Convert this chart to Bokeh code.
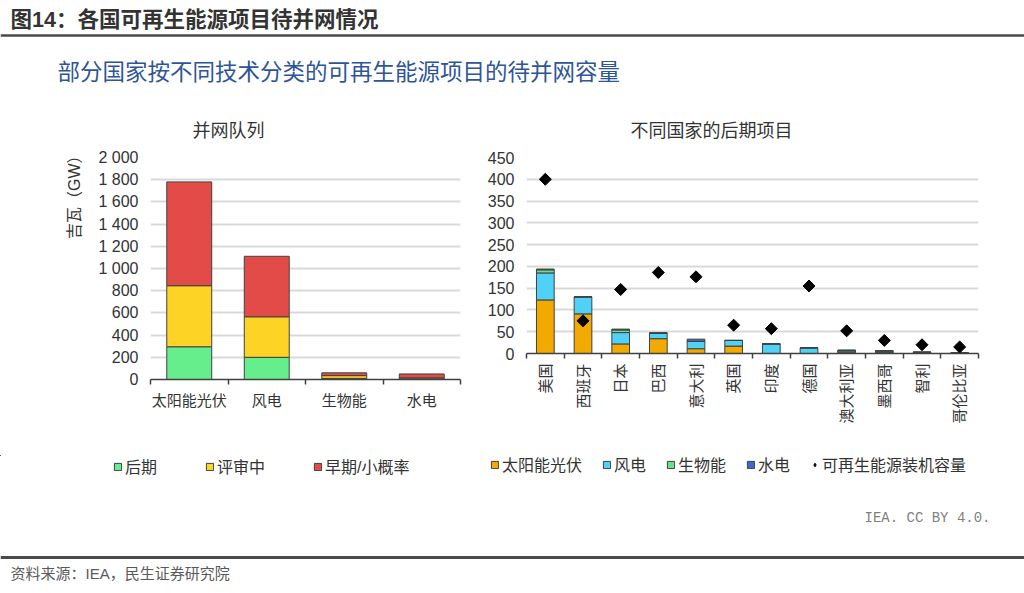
import numpy as np
from bokeh.plotting import figure
from bokeh.models import (Range1d, Span, Label, Legend, LegendItem, Title,
                          LinearAxis, FixedTicker, ColumnDataSource)
from bokeh.layouts import column, row
from bokeh.embed import file_html
from bokeh.resources import INLINE

FONT = "Liberation Sans, Noto Sans CJK SC"
TXT = "#333333"

# ---------------- data ----------------
queue_categories = ["太阳能光伏", "风电", "生物能", "水电"]
queue_stage_labels = ["后期", "评审中", "早期/小概率"]
queue_late = [295, 200, 10, 5]
queue_review = [550, 365, 25, 10]
queue_early = [935, 545, 25, 35]
queue_yticks = [0, 200, 400, 600, 800, 1000, 1200, 1400, 1600, 1800, 2000]

countries = ["美国", "西班牙", "日本", "巴西", "意大利", "英国", "印度", "德国",
             "澳大利亚", "墨西哥", "智利", "哥伦比亚"]
tech_labels = ["太阳能光伏", "风电", "生物能", "水电"]
late_solar = [123, 91, 22, 34, 11, 17, 0, 0, 3, 2, 2, 1]
late_wind = [62, 39, 26, 13, 17, 13, 22, 13, 3, 4, 1, 0]
late_bio = [7, 0, 6, 0, 0, 0, 0, 0, 1, 0, 0, 0]
late_hydro = [2, 0, 2, 0, 5, 0, 0, 0, 1, 0, 0, 0]
installed = [400, 75, 147, 186, 176, 65, 57, 155, 52, 30, 20, 15]
installed_label = "可再生能源装机容量"
country_yticks = [0, 50, 100, 150, 200, 250, 300, 350, 400, 450]

stage_colors = ["#66ee8c", "#fdd426", "#e34b48"]
tech_colors = ["#f2a900", "#4fd1f8", "#69e08f", "#3b6cc9"]
OUTLINE = "#404040"


def base_fig(w, h, **kw):
    p = figure(width=w, height=h, output_backend="svg", toolbar_location=None, **kw)
    p.outline_line_color = None
    p.background_fill_color = "white"
    p.border_fill_color = "white"
    return p


def text_fig(w, h):
    p = base_fig(w, h, x_range=Range1d(0, w), y_range=Range1d(h, 0),
                 x_axis_location=None, y_axis_location=None, min_border=0)
    p.grid.visible = False
    return p


def style_y(p, ticks, labels):
    ax = p.yaxis[0]
    ax.ticker = FixedTicker(ticks=ticks)
    ax.major_label_overrides = labels
    ax.axis_line_color = None
    ax.major_tick_line_color = None
    ax.major_tick_out = 0
    ax.minor_tick_line_color = None
    ax.major_label_standoff = 12
    ax.major_label_text_font_size = "16px"
    ax.major_label_text_font = FONT
    ax.major_label_text_color = TXT
    p.ygrid.ticker = FixedTicker(ticks=ticks)
    p.ygrid.grid_line_color = "#d9d9d9"
    p.ygrid.grid_line_width = 2
    p.xgrid.visible = False


def add_x_axis(p, cats, standoff, orient):
    n = len(cats)
    centers = [i + 0.5 for i in range(n)]
    ax = LinearAxis(ticker=FixedTicker(ticks=centers, minor_ticks=list(range(n + 1))),
                    major_label_overrides={c: name for c, name in zip(centers, cats)})
    ax.axis_line_color = OUTLINE
    ax.axis_line_width = 1.5
    ax.major_tick_line_color = None
    ax.major_tick_out = 0
    ax.major_tick_in = 0
    ax.minor_tick_line_color = OUTLINE
    ax.minor_tick_line_width = 1.5
    ax.minor_tick_out = 5
    ax.minor_tick_in = 0
    ax.major_label_text_font_size = "15px"
    ax.major_label_text_font = FONT
    ax.major_label_text_color = TXT
    ax.major_label_standoff = standoff
    ax.major_label_orientation = orient
    p.add_layout(ax, "below")
    return centers


def make_legend(items, loc, spacing):
    return Legend(items=items, orientation="horizontal", location=loc,
                  glyph_width=9, glyph_height=9, label_standoff=3, spacing=spacing,
                  padding=0, margin=0, border_line_color=None, background_fill_alpha=0,
                  label_text_font=FONT, label_text_font_size="16px", label_text_color=TXT)


# ---------------- header (titles) ----------------
HH = 145
header = text_fig(1024, HH)
header.add_layout(Label(x=10, y=19, text="图14：各国可再生能源项目待并网情况",
                        text_font=FONT, text_font_size="21.5px", text_font_style="bold",
                        text_color="#333333", text_baseline="middle"))
header.add_layout(Span(location=35, dimension="width", line_color="#4a4a4a", line_width=2.5))
header.add_layout(Label(x=57, y=72, text="部分国家按不同技术分类的可再生能源项目的待并网容量",
                        text_font=FONT, text_font_size="22.5px",
                        text_color="#2e5597", text_baseline="middle"))
header.add_layout(Label(x=228, y=130, text="并网队列", text_font=FONT, text_font_size="18px",
                        text_color=TXT, text_align="center", text_baseline="middle"))
header.add_layout(Label(x=711, y=130, text="不同国家的后期项目", text_font=FONT,
                        text_font_size="18px", text_color=TXT, text_align="center",
                        text_baseline="middle"))

TOP = 12
BOTTOM = 76

# ---------------- left chart ----------------
left = base_fig(484, TOP + 222 + BOTTOM, x_range=Range1d(0, len(queue_categories)),
                y_range=Range1d(0, 2000), x_axis_location=None,
                min_border_left=150, min_border_right=24, min_border_top=TOP,
                min_border_bottom=BOTTOM)
style_y(left, queue_yticks, {v: f"{v:,}".replace(",", " ") for v in queue_yticks})
lx = add_x_axis(left, queue_categories, 7, "horizontal")
left.add_layout(Title(text="吉瓦（GW）", align="right", offset=-10, standoff=26,
                      text_font=FONT, text_font_size="16px", text_font_style="normal",
                      text_color=TXT), "left")
lsrc = ColumnDataSource(dict(x=lx, late=queue_late, review=queue_review, early=queue_early))
left.vbar_stack(["late", "review", "early"], x="x", width=0.58, source=lsrc,
                fill_color=stage_colors, line_color=OUTLINE, line_width=1)

# ---------------- right chart ----------------
right = base_fig(540, TOP + 196 + BOTTOM, x_range=Range1d(0, len(countries)),
                 y_range=Range1d(0, 450), x_axis_location=None,
                 min_border_left=40, min_border_right=46, min_border_top=TOP,
                 min_border_bottom=BOTTOM)
style_y(right, country_yticks, {v: str(v) for v in country_yticks})
rx = add_x_axis(right, countries, 5, np.pi / 2)
rsrc = ColumnDataSource(dict(x=rx, solar=late_solar, wind=late_wind,
                             bio=late_bio, hydro=late_hydro, installed=installed))
right.vbar_stack(["solar", "wind", "bio", "hydro"], x="x", width=0.47, source=rsrc,
                 fill_color=tech_colors, line_color=OUTLINE, line_width=1)
right.scatter(x="x", y="installed", source=rsrc, marker="square", angle=np.pi / 4,
              size=8.5, fill_color="black", line_color="black")

# ---------------- legends + footer ----------------
FH = 593 - HH - (TOP + 222 + BOTTOM)
footer = text_fig(1024, FH)
# legend swatches: one glyph each, placed far off-canvas so only the legend shows them
OFF = -5000
lkeys = []
for lab, c in zip(queue_stage_labels, stage_colors):
    r = footer.vbar(x=[OFF], bottom=[OFF], top=[OFF + 1], width=1, fill_color=c,
                    line_color=OUTLINE, line_width=1)
    lkeys.append(LegendItem(label=lab, renderers=[r]))
footer.add_layout(make_legend(lkeys, (113, FH - 23), 48))
rkeys = []
for lab, c in zip(tech_labels, tech_colors):
    r = footer.vbar(x=[OFF], bottom=[OFF], top=[OFF + 1], width=1, fill_color=c,
                    line_color=OUTLINE, line_width=1)
    rkeys.append(LegendItem(label=lab, renderers=[r]))
dr = footer.scatter(x=[OFF], y=[OFF], marker="diamond", size=8, fill_color="black",
                    line_color="black")
rkeys.append(LegendItem(label=installed_label, renderers=[dr]))
footer.add_layout(make_legend(rkeys, (490, FH - 21), 20))
footer.add_layout(Label(x=990, y=62, text="IEA. CC BY 4.0.",
                        text_font="Liberation Mono", text_font_size="14px", text_color="#7f7f7f",
                        text_align="right", text_baseline="middle"))
footer.add_layout(Span(location=102, dimension="width", line_color="#4a4a4a", line_width=3))
footer.add_layout(Label(x=10, y=118, text="资料来源：IEA，民生证券研究院",
                        text_font=FONT, text_font_size="15px", text_color="#595959",
                        text_baseline="middle"))

layout = column(header, row(left, right), footer)
open("out.html", "w").write(file_html(layout, INLINE))
